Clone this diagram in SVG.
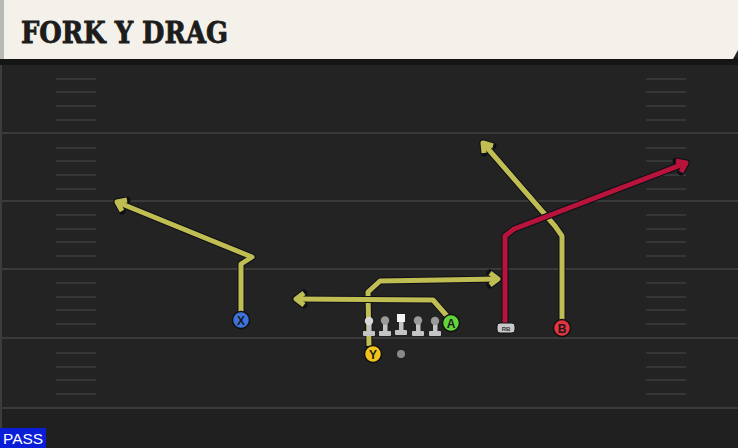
<svg xmlns="http://www.w3.org/2000/svg" width="738" height="448" viewBox="0 0 738 448">
<defs>
<style>
.yl{stroke:#3a3a3a;stroke-width:2}
.rt-o{fill:none;stroke:#0e1018;stroke-width:7;stroke-linejoin:round;stroke-linecap:round}
.rt-y{fill:none;stroke:#c0bd52;stroke-width:5;stroke-linejoin:round;stroke-linecap:butt}
.rt-r{fill:none;stroke:#b8133a;stroke-width:5;stroke-linejoin:round;stroke-linecap:butt}
.pl{stroke:#101010;stroke-width:1.5}
.lbl{font-family:"Liberation Sans",Arial,sans-serif;font-weight:bold;font-size:12px;fill:#1a1a1a;text-anchor:middle}
.ol{fill:#c4c4c4}
</style>
</defs>
<rect width="738" height="448" fill="#232323"/>
<rect x="0" y="408" width="738" height="40" fill="#202020"/>
<line x1="1" y1="60" x2="1" y2="448" stroke="#3c3c3c" stroke-width="2"/>
<g id="field">
<line class="yl" x1="0" y1="133" x2="738" y2="133"/>
<line class="yl" x1="0" y1="201" x2="738" y2="201"/>
<line class="yl" x1="0" y1="269" x2="738" y2="269"/>
<line class="yl" x1="0" y1="338" x2="738" y2="338"/>
<line class="yl" x1="0" y1="408" x2="738" y2="408"/>
<path d="M56 79H96M56 92H96M56 106H96M56 120H96M56 148H96M56 161H96M56 175H96M56 189H96M56 215H96M56 229H96M56 242H96M56 256H96M56 283H96M56 297H96M56 310H96M56 324H96M56 353H96M56 367H96M56 380H96M56 394H96" stroke="#363636" stroke-width="2"/>
<path d="M646 79H686M646 92H686M646 106H686M646 120H686M646 148H686M646 161H686M646 175H686M646 189H686M646 215H686M646 229H686M646 242H686M646 256H686M646 283H686M646 297H686M646 310H686M646 324H686M646 353H686M646 367H686M646 380H686M646 394H686" stroke="#363636" stroke-width="2"/>
</g>
<g id="header">
<rect x="0" y="58" width="738" height="7" fill="#151515"/>
<polygon points="0,0 738,0 738,50 733,59 0,59" fill="#f4f1ea"/>
<rect x="0" y="0" width="4" height="59" fill="#b8b8b4"/>
<text x="21" y="43" font-family="'DejaVu Serif','Liberation Serif',serif" font-weight="bold" font-size="29" fill="#1c1c1c" textLength="207" lengthAdjust="spacingAndGlyphs" stroke="#1c1c1c" stroke-width="0.8">FORK Y DRAG</text>
</g>
<g id="connectors">
<g id="route-x">
<polyline class="rt-o" points="241,312 241,264 252,257 117,202"/>
<polyline class="rt-o" points="127,200 117,202 122,211"/>
<polyline class="rt-y" points="241,312 241,264 252,257 117,202"/>
<polyline class="rt-y" points="127,200 117,202 122,211"/>
</g>
<g id="route-y">
<polyline class="rt-o" points="369,346 368,292 380,281 498,279"/>
<polyline class="rt-o" points="490,273 498,279 490,285"/>
<polyline class="rt-y" points="369,346 368,292 380,281 498,279"/>
<polyline class="rt-y" points="490,273 498,279 490,285"/>
</g>
<g id="route-a">
<polyline class="rt-o" points="447,316 433,300 296,299"/>
<polyline class="rt-o" points="304,293 296,299 304,305"/>
<polyline class="rt-y" points="447,316 433,300 296,299"/>
<polyline class="rt-y" points="304,293 296,299 304,305"/>
</g>
<g id="route-b">
<polyline class="rt-o" points="562,320 562,236 555,226 483,143"/>
<polyline class="rt-o" points="484,153 483,143 493,146"/>
<polyline class="rt-y" points="562,320 562,236 555,226 483,143"/>
<polyline class="rt-y" points="484,153 483,143 493,146"/>
</g>
<g id="route-rb">
<polyline class="rt-o" points="505,323 505,236 514,229 686,163"/>
<polyline class="rt-o" points="676,161 686,163 681,172"/>
<polyline class="rt-r" points="505,323 505,236 514,229 686,163"/>
<polyline class="rt-r" points="676,161 686,163 681,172"/>
</g>
</g>
<g id="line">
<g id="lt"><rect class="ol" x="363" y="331" width="12" height="5" rx="1"/><rect class="ol" x="367" y="322" width="4.5" height="10"/><circle cx="369" cy="321" r="4.2" fill="#d8d8d8"/></g>
<g id="lg"><rect class="ol" x="379" y="331" width="12" height="5" rx="1"/><rect class="ol" x="383" y="322" width="4.5" height="10"/><circle cx="385" cy="320.5" r="4.2" fill="#9a9a9a"/></g>
<g id="c"><rect class="ol" x="395" y="330" width="12" height="5" rx="1"/><rect class="ol" x="399" y="321" width="4.5" height="10"/><rect x="397" y="314" width="8" height="8" fill="#f4f4f4"/></g>
<g id="rg"><rect class="ol" x="412" y="331" width="12" height="5" rx="1"/><rect class="ol" x="416" y="322" width="4.5" height="10"/><circle cx="418" cy="320.5" r="4.2" fill="#9a9a9a"/></g>
<g id="rt"><rect class="ol" x="429" y="331" width="12" height="5" rx="1"/><rect class="ol" x="433" y="322" width="4.5" height="10"/><circle cx="435" cy="321" r="4.2" fill="#9a9a9a"/></g>
</g>
<g id="x"><circle class="pl" cx="241" cy="320" r="8.5" fill="#3f73dc"/><text class="lbl" x="241" y="324.5">X</text></g>
<g id="y"><circle class="pl" cx="373" cy="354" r="8.5" fill="#f1c41c"/><text class="lbl" x="373" y="358.5">Y</text></g>
<g id="a"><circle class="pl" cx="451" cy="323" r="8.5" fill="#62d33a"/><text class="lbl" x="451" y="327.5">A</text></g>
<g id="b"><circle class="pl" cx="562" cy="328" r="8.5" fill="#e5343f"/><text class="lbl" x="562" y="332.5">B</text></g>
<g id="rb"><rect x="497" y="323" width="18" height="10" rx="3" fill="#c8c8c8" stroke="#101010" stroke-width="1"/><text x="506" y="330.5" font-family="'Liberation Sans',Arial,sans-serif" font-weight="bold" font-size="6" fill="#333" text-anchor="middle">RB</text></g>
<g id="ball"><circle cx="401" cy="354" r="4" fill="#8a8a8a"/></g>
<g id="pass"><rect x="0" y="428" width="46" height="20" fill="#0a1ed8"/><text x="23" y="444" font-family="'Liberation Sans',Arial,sans-serif" font-size="15" fill="#ffffff" text-anchor="middle" textLength="40" lengthAdjust="spacingAndGlyphs">PASS</text></g>
</svg>
